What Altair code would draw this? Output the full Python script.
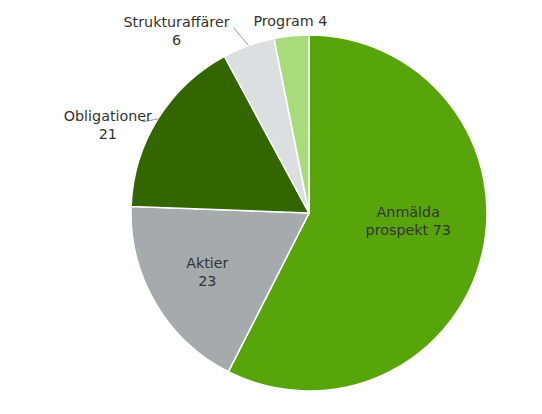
import altair as alt
import pandas as pd

categories = ["Anmälda prospekt", "Aktier", "Obligationer", "Strukturaffärer", "Program"]
values = [73, 23, 21, 6, 4]
labels = ["Anmälda\nprospekt 73", "Aktier\n23", "Obligationer\n21", "Strukturaffärer\n6", "Program 4"]
colors = ["#58a50b", "#a5aaad", "#336600", "#dbdfe1", "#a8dc7b"]

df = pd.DataFrame({"cat": categories, "value": values, "label": labels, "idx": list(range(len(values)))})

CX, CY, R = 301, 205, 178
FONT = "DejaVu Sans"

base = alt.Chart(df).transform_joinaggregate(
    total="sum(value)"
).transform_window(
    cum="sum(value)", sort=[alt.SortField("idx")]
).transform_calculate(
    mid="datum.cum - datum.value / 2",
    ang="(datum.cum - datum.value / 2) / datum.total * 2 * PI",
)

arc = alt.Chart(df).mark_arc(outerRadius=R, stroke="white", strokeWidth=1.5).encode(
    theta=alt.Theta("value:Q", stack=True),
    color=alt.Color("cat:N", scale=alt.Scale(domain=categories, range=colors), legend=None),
    order=alt.Order("idx:Q"),
    x=alt.value(CX),
    y=alt.value(CY),
)

def label_layer(cat, radius, dx, dy):
    return base.transform_filter(alt.datum.cat == cat).mark_text(
        radius=radius, dx=dx, dy=dy, lineBreak="\n", font=FONT, fontSize=14.3,
        color="#333333", align="center", baseline="middle", lineHeight=18,
    ).encode(
        theta=alt.Theta("mid:Q", stack=None),
        text="label:N",
        x=alt.value(CX),
        y=alt.value(CY),
    )

def leader(cat, ox, oy):
    return base.transform_filter(alt.datum.cat == cat).transform_calculate(
        px=f"{CX} + {R} * sin(datum.ang)",
        py=f"{CY} - {R} * cos(datum.ang)",
    ).transform_calculate(
        px2=f"datum.px + ({ox})",
        py2=f"datum.py + ({oy})",
    ).mark_rule(color="#999999", strokeWidth=1).encode(
        x=alt.X("px:Q", scale=None),
        y=alt.Y("py:Q", scale=None),
        x2="px2:Q",
        y2="py2:Q",
    )

chart = alt.layer(
    arc,
    leader("Strukturaffärer", -15, -18),
    leader("Obligationer", -16, 3),
    label_layer("Anmälda prospekt", 100, 2, -23),
    label_layer("Aktier", 118, 0, -9),
    label_layer("Obligationer", R, -50, -2),
    label_layer("Strukturaffärer", R, -72, -23),
    label_layer("Program", R, -1, -14),
).properties(
    width=526, height=398, autosize="none", padding=0
).configure_view(stroke=None)

chart.save("out.html", embed_options={"renderer": "svg", "actions": False})
